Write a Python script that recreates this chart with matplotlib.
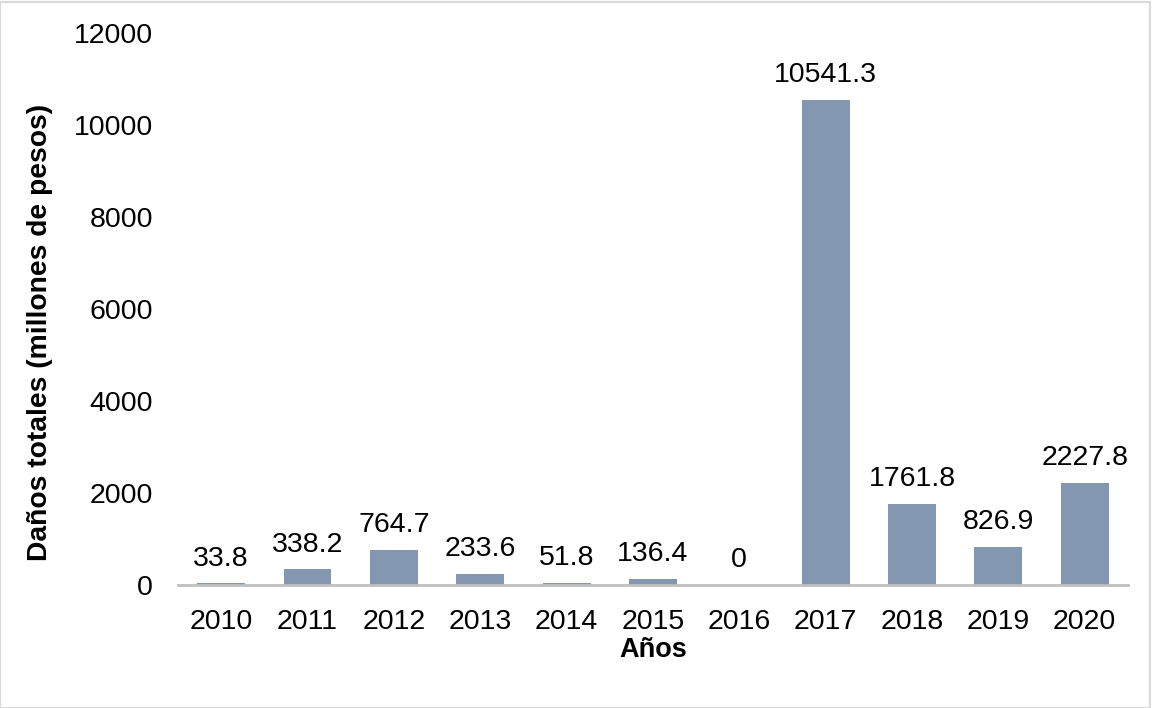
import matplotlib
matplotlib.use("Agg")
import matplotlib.pyplot as plt
from matplotlib.patches import Rectangle

years = ["2010", "2011", "2012", "2013", "2014", "2015", "2016", "2017", "2018", "2019", "2020"]
values = [33.8, 338.2, 764.7, 233.6, 51.8, 136.4, 0, 10541.3, 1761.8, 826.9, 2227.8]
labels = ["33.8", "338.2", "764.7", "233.6", "51.8", "136.4", "0", "10541.3", "1761.8", "826.9", "2227.8"]
yticks = [0, 2000, 4000, 6000, 8000, 10000, 12000]

plt.rcParams['font.family'] = ['Liberation Sans', 'DejaVu Sans']

fig = plt.figure(figsize=(11.52, 7.08), dpi=100)
ax = fig.add_axes([0.1545, 0.1737, 0.8245, 0.7797])
x = list(range(len(years)))
ax.bar(x, values, width=0.555, color='#8497B0')
for xi, v, lab in zip(x, values, labels):
    ax.annotate(lab, (xi, v), xytext=(0, 8.5), textcoords='offset points',
                ha='center', va='bottom', fontsize=20.5, color='#000000')
ax.set_xlim(-0.5, len(years) - 0.5)
ax.set_ylim(0, 12000)
ax.set_yticks(yticks)
ax.set_yticklabels([str(t) for t in yticks], fontsize=20.5)
ax.set_xticks(x)
ax.set_xticklabels(years, fontsize=20.5)
for s in ['top', 'right', 'left']:
    ax.spines[s].set_visible(False)
ax.spines['bottom'].set_color('#BFBFBF')
ax.spines['bottom'].set_linewidth(2)
ax.tick_params(axis='x', length=0, pad=17)
ax.tick_params(axis='y', length=0, pad=18)
ax.set_xlabel('Años', fontsize=19.5, fontweight='bold', labelpad=2)
ax.set_ylabel('Daños totales (millones de pesos)', fontsize=20.3, fontweight='bold')
ax.yaxis.set_label_coords(-0.1316, 0.458)

fig.patches.append(Rectangle((0.0, 0.0), 0.998, 0.997, transform=fig.transFigure,
                             fill=False, edgecolor='#D9D9D9', linewidth=1.5))
fig.savefig('out.png', dpi=100)
